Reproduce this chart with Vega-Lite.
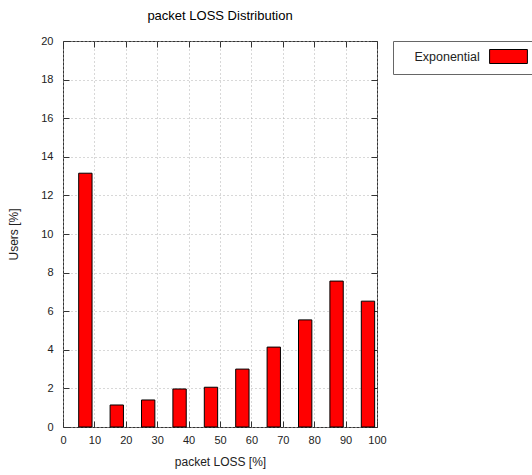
{
  "$schema": "https://vega.github.io/schema/vega-lite/v6.json",
  "width": 314,
  "height": 386,
  "autosize": {"type": "none"},
  "padding": {"left": 63, "top": 41, "right": 155, "bottom": 48},
  "background": "white",
  "title": {"text": "packet LOSS Distribution", "fontSize": 13, "fontWeight": "normal", "font": "Liberation Sans", "color": "#000", "offset": 12, "anchor": "middle"},
  "config": {
    "view": {"stroke": "#333", "strokeWidth": 1},
    "axis": {"labelFont": "Liberation Sans", "titleFont": "Liberation Sans", "labelFontSize": 11, "titleFontSize": 12, "titleFontWeight": "normal", "labelColor": "#222", "titleColor": "#222", "domain": false, "tickColor": "#333", "tickSize": -6, "gridColor": "#b0b0b0", "gridDash": [1, 3], "gridWidth": 1, "gridOpacity": 1}
  },
  "data": {"values": [
    {"lo": 5, "hi": 9.25, "users": 13.15, "series": "Exponential"},
    {"lo": 15, "hi": 19.25, "users": 1.14, "series": "Exponential"},
    {"lo": 25, "hi": 29.25, "users": 1.40, "series": "Exponential"},
    {"lo": 35, "hi": 39.25, "users": 1.97, "series": "Exponential"},
    {"lo": 45, "hi": 49.25, "users": 2.06, "series": "Exponential"},
    {"lo": 55, "hi": 59.25, "users": 3.00, "series": "Exponential"},
    {"lo": 65, "hi": 69.25, "users": 4.14, "series": "Exponential"},
    {"lo": 75, "hi": 79.25, "users": 5.55, "series": "Exponential"},
    {"lo": 85, "hi": 89.25, "users": 7.56, "series": "Exponential"},
    {"lo": 95, "hi": 99.25, "users": 6.52, "series": "Exponential"}
  ]},
  "resolve": {"axis": {"x": "independent", "y": "independent"}},
  "layer": [
    {
      "mark": {"type": "bar", "stroke": "#000", "strokeWidth": 1},
      "encoding": {
        "x": {"field": "lo", "type": "quantitative", "scale": {"domain": [0, 100], "nice": false, "zero": false},
              "axis": {"orient": "bottom", "title": "packet LOSS [%]", "values": [0,10,20,30,40,50,60,70,80,90,100], "labelPadding": 13, "titlePadding": 11, "grid": true, "labelFlush": false}},
        "x2": {"field": "hi"},
        "y": {"field": "users", "type": "quantitative", "scale": {"domain": [0, 20], "nice": false, "padding": 0},
              "axis": {"orient": "left", "title": "Users [%]", "values": [0,2,4,6,8,10,12,14,16,18,20], "labelPadding": 16, "titlePadding": 20, "grid": true}},
        "y2": {"datum": 0},
        "color": {"field": "series", "type": "nominal", "scale": {"domain": ["Exponential"], "range": ["#ff0000"]},
                  "legend": {"orient": "none", "legendX": 330, "legendY": 0, "title": "\u2800 Exponential", "titleOrient": "left", "titleAnchor": "middle", "titleBaseline": "middle", "titleFontWeight": "normal", "titleFont": "Liberation Sans", "titleFontSize": 12.5, "titleColor": "#222", "titlePadding": 21, "labelExpr": "''", "labelFontSize": 1, "labelOffset": 30, "symbolType": "M-2.7,-1H2.7V1H-2.7Z", "symbolSize": 196, "symbolStrokeColor": "#000", "symbolStrokeWidth": 1, "symbolOpacity": 1, "padding": 8, "strokeColor": "#666", "fillColor": "white"}}
      }
    },
    {
      "mark": {"type": "bar", "opacity": 0},
      "encoding": {
        "x": {"field": "lo", "type": "quantitative", "axis": {"orient": "top", "title": null, "labels": false, "grid": false, "values": [0,10,20,30,40,50,60,70,80,90,100]}},
        "x2": {"field": "hi"},
        "y": {"field": "users", "type": "quantitative", "axis": {"orient": "right", "title": null, "labels": false, "grid": false, "values": [0,2,4,6,8,10,12,14,16,18,20]}},
        "y2": {"datum": 0}
      }
    }
  ]
}
